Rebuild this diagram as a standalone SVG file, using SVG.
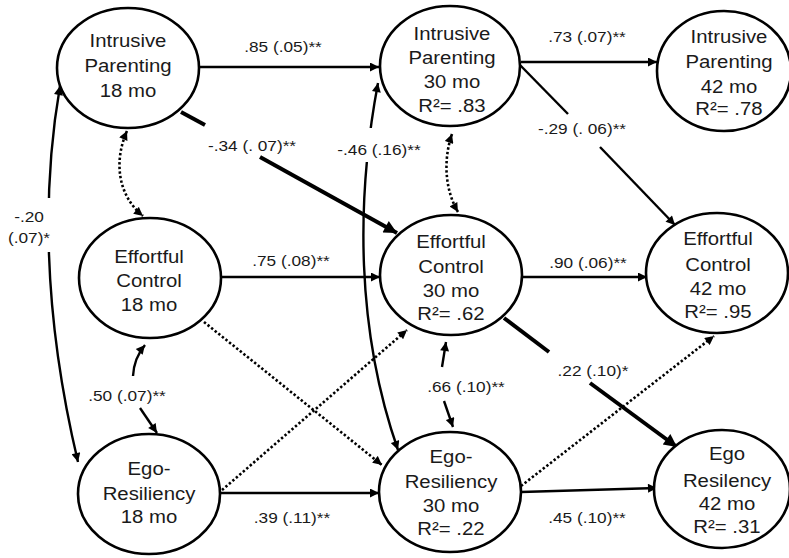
<svg xmlns="http://www.w3.org/2000/svg" width="789" height="558" viewBox="0 0 789 558">
<style>
.bg{fill:#fff}
.node ellipse{fill:#fff;stroke:#000;stroke-width:2.6}
.nt{font-family:"Liberation Sans",Arial,sans-serif;font-size:18.5px;fill:#1a1a1a;text-anchor:middle}
.lb{font-family:"Liberation Sans",Arial,sans-serif;font-size:15px;fill:#1a1a1a;text-anchor:middle}
.e{fill:none;stroke:#000;stroke-width:2.4}
.t{fill:none;stroke:#000;stroke-width:4}
.d{fill:none;stroke:#000;stroke-width:2.6;stroke-dasharray:2.4 2.2}
.wr{fill:#fff;stroke:none}
</style>
<defs>
<marker id="a" viewBox="0 0 10 10" refX="10" refY="5" markerWidth="11" markerHeight="9" markerUnits="userSpaceOnUse" orient="auto-start-reverse">
<path d="M0,0 L10,5 L0,10 z" fill="#000" stroke="none"/>
</marker>
<marker id="b" viewBox="0 0 10 10" refX="10" refY="5" markerWidth="15" markerHeight="13" markerUnits="userSpaceOnUse" orient="auto-start-reverse">
<path d="M0,0 L10,5 L0,10 z" fill="#000" stroke="none"/>
</marker>
</defs>
<rect class="bg" x="0" y="0" width="789" height="558"/>

<g id="connectors">
<!-- IP18 -> IP30 -->
<path class="e" d="M199,67 L379,67" marker-end="url(#a)"/>
<!-- IP30 -> IP42 -->
<path class="e" d="M521,62 L657,62" marker-end="url(#a)"/>
<!-- IP30 -> EC42 -->
<path class="e" d="M519,64 L568,114"/>
<path class="e" d="M600,147 L675,225" marker-end="url(#a)"/>
<!-- IP18 -> EC30 thick -->
<path class="t" d="M181,112 L205,125"/>
<path class="t" d="M260,157 L397,233" marker-end="url(#b)"/>
<!-- EC18 -> EC30 -->
<path class="e" d="M221,277 L380,277" marker-end="url(#a)"/>
<!-- EC30 -> EC42 -->
<path class="e" d="M523,277 L647,277" marker-end="url(#a)"/>
<!-- ER18 -> ER30 -->
<path class="e" d="M220,493 L379,493" marker-end="url(#a)"/>
<!-- ER30 -> ER42 -->
<path class="e" d="M521,492 L657,488" marker-end="url(#a)"/>
<!-- dotted cross paths -->
<path class="d" d="M204,322 L382,465" marker-end="url(#a)"/>
<path class="d" d="M222,490 L407,330" marker-end="url(#a)"/>
<path class="d" d="M521,486 L714,336" marker-end="url(#a)"/>
<!-- EC30 -> ER42 thick -->
<path class="t" d="M504,318 L549,352"/>
<path class="t" d="M590,383 L677,447" marker-end="url(#b)"/>
<!-- IP30 <-> ER30 correlation -->
<path class="e" d="M378,83 C356,200 356,330 398,450" marker-start="url(#a)" marker-end="url(#a)"/>
<rect class="wr" x="355" y="128" width="30" height="34"/>
<!-- IP18 <-> ER18 correlation -->
<path class="e" d="M60,86 Q30,260 78,462" marker-start="url(#a)" marker-end="url(#a)"/>
<rect class="wr" x="36" y="198" width="24" height="54"/>
<!-- dotted residual correlations -->
<path class="d" d="M127,131 C114,160 117,195 143,216" marker-start="url(#a)" marker-end="url(#a)"/>
<path class="d" d="M452,134 C443,160 445,190 458,212" marker-start="url(#a)" marker-end="url(#a)"/>
<!-- EC18 <-> ER18 -->
<path class="e" d="M133,376 Q134,358 145,345" marker-end="url(#a)"/>
<path class="e" d="M140,408 L157,433" marker-end="url(#a)"/>
<!-- EC30 <-> ER30 -->
<path class="e" d="M442,367 L446,342" marker-end="url(#a)"/>
<path class="e" d="M444,401 L453,427" marker-end="url(#a)"/>
</g>

<g id="labels">
<text class="lb" transform="translate(283 0) scale(1.15 1)" x="0" y="52">.85 (.05)**</text>
<text class="lb" transform="translate(587 0) scale(1.15 1)" x="0" y="42">.73 (.07)**</text>
<text class="lb" transform="translate(582 0) scale(1.15 1)" x="0" y="134">-.29 (. 06)**</text>
<text class="lb" transform="translate(252 0) scale(1.15 1)" x="0" y="151">-.34 (. 07)**</text>
<text class="lb" transform="translate(379 0) scale(1.15 1)" x="0" y="155">-.46 (.16)**</text>
<text class="lb" transform="translate(29 0) scale(1.15 1)"><tspan x="0" y="222">-.20</tspan><tspan x="0" y="243">(.07)*</tspan></text>
<text class="lb" transform="translate(291 0) scale(1.15 1)" x="0" y="266">.75 (.08)**</text>
<text class="lb" transform="translate(588 0) scale(1.15 1)" x="0" y="268">.90 (.06)**</text>
<text class="lb" transform="translate(127 0) scale(1.15 1)" x="0" y="401">.50 (.07)**</text>
<text class="lb" transform="translate(466 0) scale(1.15 1)" x="0" y="392">.66 (.10)**</text>
<text class="lb" transform="translate(593 0) scale(1.15 1)" x="0" y="376">.22 (.10)*</text>
<text class="lb" transform="translate(292 0) scale(1.15 1)" x="0" y="523">.39 (.11)**</text>
<text class="lb" transform="translate(587 0) scale(1.15 1)" x="0" y="523">.45 (.10)**</text>
</g>

<g id="ip18" class="node">
<ellipse cx="128" cy="68" rx="71" ry="60"/>
<text class="nt" transform="translate(128 0) scale(1.1 1)"><tspan x="0" y="47">Intrusive</tspan><tspan x="0" y="72">Parenting</tspan><tspan x="0" y="97">18 mo</tspan></text>
</g>
<g id="ip30" class="node">
<ellipse cx="450" cy="66" rx="70" ry="60"/>
<text class="nt" transform="translate(452 0) scale(1.1 1)"><tspan x="0" y="40">Intrusive</tspan><tspan x="0" y="64">Parenting</tspan><tspan x="0" y="88">30 mo</tspan><tspan x="0" y="112">R²= .83</tspan></text>
</g>
<g id="ip42" class="node">
<ellipse cx="724" cy="71" rx="67" ry="60"/>
<text class="nt" transform="translate(729 0) scale(1.1 1)"><tspan x="0" y="43">Intrusive</tspan><tspan x="0" y="68">Parenting</tspan><tspan x="0" y="93">42 mo</tspan><tspan x="0" y="115">R²= .78</tspan></text>
</g>
<g id="ec18" class="node">
<ellipse cx="150" cy="278" rx="71" ry="60"/>
<text class="nt" transform="translate(149 0) scale(1.1 1)"><tspan x="0" y="263">Effortful</tspan><tspan x="0" y="287">Control</tspan><tspan x="0" y="311">18 mo</tspan></text>
</g>
<g id="ec30" class="node">
<ellipse cx="451" cy="275" rx="71" ry="60"/>
<text class="nt" transform="translate(451 0) scale(1.1 1)"><tspan x="0" y="248">Effortful</tspan><tspan x="0" y="273">Control</tspan><tspan x="0" y="297">30 mo</tspan><tspan x="0" y="320">R²= .62</tspan></text>
</g>
<g id="ec42" class="node">
<ellipse cx="717" cy="273" rx="71" ry="60"/>
<text class="nt" transform="translate(718 0) scale(1.1 1)"><tspan x="0" y="245">Effortful</tspan><tspan x="0" y="271">Control</tspan><tspan x="0" y="295">42 mo</tspan><tspan x="0" y="318">R²= .95</tspan></text>
</g>
<g id="er18" class="node">
<ellipse cx="149" cy="494" rx="71" ry="60"/>
<text class="nt" transform="translate(149 0) scale(1.1 1)"><tspan x="0" y="475">Ego-</tspan><tspan x="0" y="500">Resiliency</tspan><tspan x="0" y="523">18 mo</tspan></text>
</g>
<g id="er30" class="node">
<ellipse cx="450" cy="492" rx="71" ry="60"/>
<text class="nt" transform="translate(451 0) scale(1.1 1)"><tspan x="0" y="463">Ego-</tspan><tspan x="0" y="488">Resiliency</tspan><tspan x="0" y="512">30 mo</tspan><tspan x="0" y="535">R²= .22</tspan></text>
</g>
<g id="er42" class="node">
<ellipse cx="722" cy="489" rx="68" ry="59"/>
<text class="nt" transform="translate(727 0) scale(1.1 1)"><tspan x="0" y="460">Ego</tspan><tspan x="0" y="487">Resilency</tspan><tspan x="0" y="510">42 mo</tspan><tspan x="0" y="533">R²= .31</tspan></text>
</g>
</svg>
